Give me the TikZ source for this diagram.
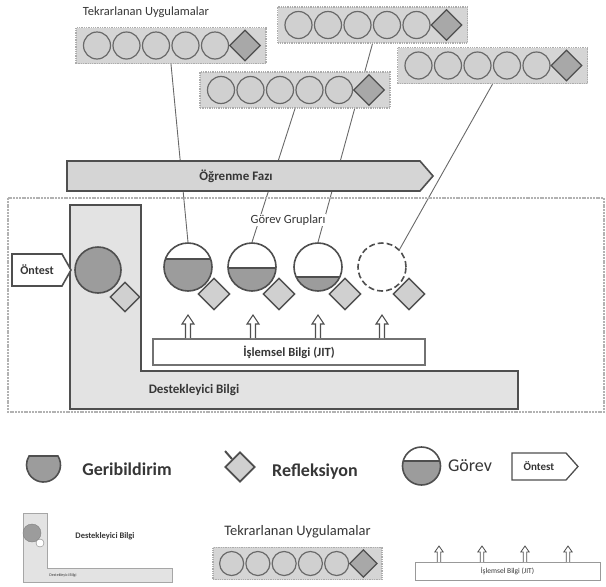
\documentclass[tikz,border=0pt]{standalone}
\usepackage{fontspec}
\setmainfont{Carlito}
\usetikzlibrary{shapes.geometric,backgrounds}
\definecolor{edgegray}{HTML}{4F4F4F}
\definecolor{boxgray}{HTML}{D5D5D5}
\definecolor{circgray}{HTML}{D0D0D0}
\definecolor{diagray}{HTML}{A8A8A8}
\definecolor{fillgray}{HTML}{9C9C9C}
\definecolor{Lgray}{HTML}{E3E3E3}
\definecolor{txtgray}{HTML}{363636}
\newcommand{\fsz}[1]{\fontsize{#1}{#1}\selectfont}
\tikzset{
  repframe/.style={draw=gray!65,densely dotted,line width=1.3pt,fill=boxgray,inner sep=0},
  repcirc/.style={circle,draw=edgegray!85,line width=1.2pt,fill=circgray,inner sep=0},
  repdia/.style={diamond,draw=edgegray,line width=1.2pt,fill=diagray,inner sep=0},
  task/.style={circle,draw=edgegray,line width=1.6pt,fill=white,inner sep=0,minimum size=48,
    path picture={
      \fill[fillgray] (path picture bounding box.south west) rectangle ([yshift=#1]path picture bounding box.south east);
      \draw[edgegray,line width=1.6pt] ([yshift=#1]path picture bounding box.south west) -- ([yshift=#1]path picture bounding box.south east);}},
  taskdia/.style={diamond,draw=edgegray,line width=1.4pt,fill=circgray,inner sep=0,minimum size=32},
  tagbox/.style={draw=edgegray,line width=1.6pt,fill=white},
  link/.style={draw=edgegray!85,line width=0.9pt},
  uparrow/.style={draw=edgegray,line width=1.1pt,fill=white},
}
% box of repeated practices: name, x, y, scale
\newcommand{\repbox}[4]{%
  \node[repframe,minimum width=190*#4,minimum height=36*#4] (#1) at (#2,#3) {};
  \foreach \i in {0,...,4}
    \node[repcirc,minimum size=27*#4] (#1c\i) at ({#2+(-74+29.5*\i)*#4},#3) {};
  \node[repdia,minimum size=31*#4] (#1d) at ({#2+74*#4},#3) {};
}
\begin{document}
\begin{tikzpicture}[x=1pt,y=-1pt,every node/.append style={text=txtgray}]
\useasboundingbox (0,0) rectangle (606,587);

% repeated practices
\node (reptitle) at (146,12) {\fsz{12.5}Tekrarlanan Uygulamalar};
\repbox{tu1}{171}{45.5}{1}
\repbox{tu2}{372.5}{25}{1}
\repbox{tu3}{295}{90}{1}
\repbox{tu4}{492.5}{65.5}{1}

% frame and supportive information
\draw[gray!60,line width=2pt,dash pattern=on 2pt off 0.8pt] (8,198) rectangle (604,412);
\draw[draw=edgegray,line width=1.6pt,fill=Lgray] (70,205) -- (141,205) -- (141,371) -- (518,371) -- (518,409) -- (70,409) -- cycle;
\node (sup) at (194,390) {\fsz{13}\bfseries Destekleyici Bilgi};

% learning phase
\draw[draw=edgegray,line width=1.6pt,fill=boxgray] (67,161) -- (420,161) -- (433,176) -- (420,191) -- (67,191) -- cycle;
\node (phase) at (236,176) {\fsz{13}\bfseries Öğrenme Fazı};

% pretest
\draw[tagbox] (12,254) -- (62,254) -- (71,270) -- (62,286) -- (12,286) -- cycle;
\node (pre) at (37,270) {\fsz{12}\bfseries Öntest};
\node[circle,draw=edgegray,line width=1.6pt,fill=fillgray,minimum size=46,inner sep=0] (t0) at (98,270) {};
\node[taskdia,minimum size=30] (r0) at (125,297) {};

% task groups
\node[fill=white,inner sep=1pt] (grp) at (288,220) {\fsz{12.5}Görev Grupları};
\node[task=32pt] (t1) at (188,267) {};
\node[task=23pt] (t2) at (252,267) {};
\node[task=14pt] (t3) at (318,267) {};
\node[circle,draw=edgegray,line width=1.6pt,dash pattern=on 6pt off 3pt,minimum size=48,inner sep=0] (t4) at (382,267) {};
\node[taskdia] (r1) at (214,294) {};
\node[taskdia] (r2) at (279,294) {};
\node[taskdia] (r3) at (345,294) {};
\node[taskdia] (r4) at (409,294) {};

% procedural information
\node[draw=edgegray!80,line width=1.2pt,fill=white,minimum width=272,minimum height=26] (jit) at (289,352) {\fsz{12.5}\bfseries İşlemsel Bilgi (JIT)};
\foreach \x in {188,253,318,382}
  \draw[uparrow] (\x-2.5,338) -- (\x-2.5,324) -- (\x-6,324) -- (\x,315) -- (\x+6,324) -- (\x+2.5,324) -- (\x+2.5,338);

\begin{scope}[on background layer]
\draw[link] (tu1.south) -- (t1.north);
\draw[link] (tu3.south) -- (t2.north);
\draw[link] (tu2.south) -- (t3.north);
\draw[link] (tu4.south) -- (t4.north east);
\end{scope}

% legend
\draw[draw=edgegray,line width=1.6pt,fill=fillgray] (43.5,465) ++(-32:17) arc[start angle=-32,end angle=212,radius=17] -- cycle;
\node (lgfb) at (127,469) {\fsz{18}\bfseries Geribildirim};
\node[taskdia,minimum size=30,line width=1.8pt] (lgr) at (240,467) {};
\draw[edgegray,line width=2pt] (lgr.north west) -- ++(-7,-8);
\node (lgrt) at (315,472) {\fsz{18}\bfseries Refleksiyon};
\node[task=24pt,minimum size=38] (lgt) at (421.5,466) {};
\node (lgtt) at (470,466) {\fsz{18}Görev};
\draw[tagbox,line width=1.3pt] (512,453) -- (566,453) -- (578,466.5) -- (566,480) -- (512,480) -- cycle;
\node (lgpre) at (539,466.5) {\fsz{11}\bfseries Öntest};

\draw[draw=gray!70,line width=0.8pt,fill=Lgray] (23,513) -- (47,513) -- (47,568) -- (172,568) -- (172,582) -- (23,582) -- cycle;
\node[circle,draw=gray,fill=fillgray,minimum size=18,inner sep=0] (lsc) at (32,533) {};
\node[circle,draw=gray,fill=white,minimum size=8,inner sep=0] (lsd) at (40,543) {};
\node (lsup) at (105,536) {\fsz{8.5}\bfseries Destekleyici Bilgi};
\node (lsupb) at (63,575) {\fsz{4}Destekleyici Bilgi};

\node (lreptitle) at (297.5,532) {\fsz{14.5}Tekrarlanan Uygulamalar};
\repbox{lrep}{297.5}{563.5}{0.89}

\node[draw=gray!80,line width=0.8pt,fill=white,minimum width=185,minimum height=18,inner sep=0] (ljit) at (507.5,571) {\fsz{7.5}İşlemsel Bilgi (JIT)};
\foreach \x in {439,482,525,568}
  \draw[uparrow,line width=0.8pt] (\x-1.8,562) -- (\x-1.8,552) -- (\x-4.2,552) -- (\x,546) -- (\x+4.2,552) -- (\x+1.8,552) -- (\x+1.8,562);
\end{tikzpicture}
\end{document}
